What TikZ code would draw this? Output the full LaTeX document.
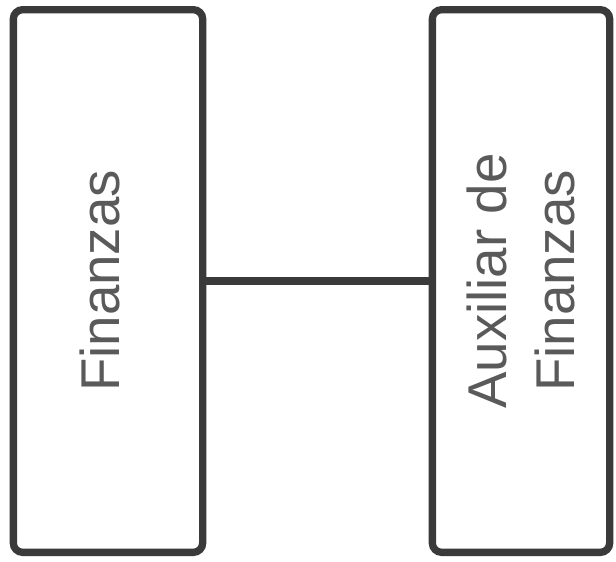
\documentclass[tikz,border=0pt]{standalone}
\usepackage{fontspec}
\setmainfont{Liberation Sans}
\usetikzlibrary{positioning}
\usepackage{xcolor}
\definecolor{boxline}{HTML}{3A3A3A}
\definecolor{boxtext}{HTML}{5A5A5A}

\begin{document}
\begin{tikzpicture}[x=0.75pt, y=-0.75pt,
        box/.style={draw=boxline, line width=5.5pt, rounded corners=7pt,
                    rotate=90, minimum height=142pt, align=center,
                    text=boxtext, font=\fontsize{41}{51}\selectfont},
    ]
        \useasboundingbox (0,0) rectangle (616,561);
        \node[box, minimum width=407pt, text depth=12pt] (fin) at (108,281) {Finanzas};
        \node[box, minimum width=407pt, minimum height=133pt, text depth=1pt] (aux) at (521,281)
            {Auxiliar de\\Finanzas};
        \draw[draw=boxline, line width=5.5pt] (fin.south) -- (aux.north);
    \end{tikzpicture}
\end{document}
